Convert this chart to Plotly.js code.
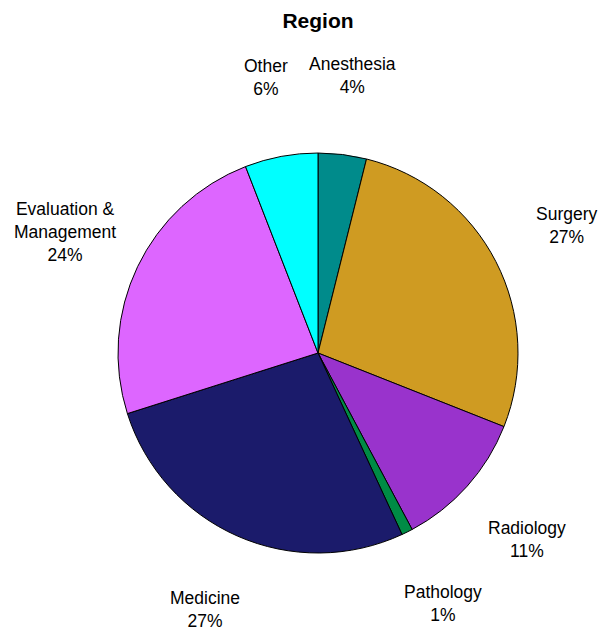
<!DOCTYPE html>
<html>
<head>
<meta charset="utf-8">
<script src="https://cdn.plot.ly/plotly-3.0.1.min.js"></script>
<style>html,body{margin:0;padding:0;background:#fff;}</style>
</head>
<body>
<div id="chart" style="width:601px;height:633px;"></div>
<script>
const categories = ["Anesthesia", "Surgery", "Radiology", "Pathology", "Medicine", "Evaluation &<br>Management", "Other"];
const values = [3.9, 27.1, 11.2, 0.9, 27.0, 24.0, 5.9];
const colors = ["#008B8B", "#CF9B22", "#9933CC", "#008B45", "#1B1B6B", "#DD66FF", "#00FFFF"];

const W = 601, H = 633;
const margin = {l: 118, r: 83, t: 153, b: 80};
const plotW = W - margin.l - margin.r, plotH = H - margin.t - margin.b;
const R = Math.min(plotW, plotH) / 2;
const labelR = R * 1.4;

const total = values.reduce((a, b) => a + b, 0);
let cum = 0;
const annotations = categories.map((c, i) => {
  const mid = (cum + values[i] / 2) / total * 2 * Math.PI;
  cum += values[i];
  const dx = labelR * Math.sin(mid), dy = -labelR * Math.cos(mid);
  const pct = Math.round(values[i] / total * 100);
  return {
    xref: 'paper', yref: 'paper',
    x: 0.5 + dx / plotW, y: 0.5 - dy / plotH,
    xanchor: 'center', yanchor: 'middle',
    text: c + '<br>' + pct + '%',
    showarrow: false,
    font: {family: 'Liberation Sans, Arial, sans-serif', size: 17.5, color: '#000'}
  };
});

const data = [{
  type: 'pie',
  labels: categories,
  values: values,
  sort: false,
  direction: 'clockwise',
  rotation: 0,
  marker: {colors: colors, line: {color: '#000', width: 1}},
  textinfo: 'none',
  hoverinfo: 'label+percent',
  showlegend: false
}];

const layout = {
  width: W, height: H,
  margin: margin,
  paper_bgcolor: '#fff',
  plot_bgcolor: '#fff',
  title: {
    text: '<b>Region</b>',
    x: (margin.l + plotW / 2) / W, xanchor: 'center', xref: 'container',
    y: 1 - 21 / H, yanchor: 'middle', yref: 'container',
    font: {family: 'Liberation Sans, Arial, sans-serif', size: 21, color: '#000'}
  },
  annotations: annotations,
  showlegend: false
};

Plotly.newPlot('chart', data, layout, {displayModeBar: false});
</script>
</body>
</html>
